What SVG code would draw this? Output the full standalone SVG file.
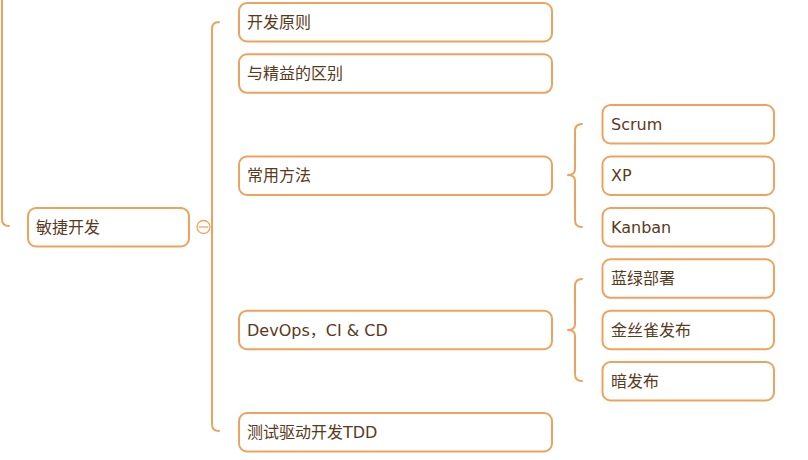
<svg xmlns="http://www.w3.org/2000/svg" width="808" height="460" viewBox="0 0 808 460">
<style>
.n{fill:#fff;stroke:#EBA45F;stroke-width:2}
.t{font-family:"DejaVu Sans","Noto Sans CJK SC",sans-serif;font-size:16px;fill:#5A3A1C;dominant-baseline:central}
.c{fill:none;stroke:#EBA45F;stroke-width:2;stroke-linecap:round;stroke-linejoin:round}
</style>
<rect width="808" height="460" fill="#fff"/>
<g id="connectors">
<path class="c" d="M2,0 V219 Q2,226 9,226"/>
<path class="c" d="M219,22 Q212,22 212,29 V424 Q212,431 219,431"/>
<path class="c" d="M582,124 Q575,124 575,131 V169 Q575,175 568,175 Q575,175 575,181 V220 Q575,227 582,227"/>
<path class="c" d="M582,279 Q575,279 575,286 V324 Q575,330 568,330 Q575,330 575,336 V374 Q575,381 582,381"/>
</g>
<g id="root">
<rect class="n" x="28" y="208" width="161" height="38.5" rx="8"/>
<text class="t" x="36" y="227">敏捷开发</text>
<circle cx="203.5" cy="227" r="6.5" fill="#fff" stroke="#EBA45F" stroke-width="1.3"/>
<line x1="199" y1="227" x2="208" y2="227" stroke="#EBA45F" stroke-width="1.3"/>
</g>
<g id="n1"><rect class="n" x="239" y="3" width="313" height="38.5" rx="8"/><text class="t" x="247" y="22">开发原则</text></g>
<g id="n2"><rect class="n" x="239" y="54.3" width="313" height="38.5" rx="8"/><text class="t" x="247" y="73.5">与精益的区别</text></g>
<g id="n3"><rect class="n" x="239" y="156.5" width="313" height="38.5" rx="8"/><text class="t" x="247" y="175.8">常用方法</text></g>
<g id="n4"><rect class="n" x="239" y="310.7" width="313" height="38.5" rx="8"/><text class="t" x="247" y="330">DevOps，CI &amp; CD</text></g>
<g id="n5"><rect class="n" x="239" y="413" width="313" height="38.5" rx="8"/><text class="t" x="247" y="432.3">测试驱动开发TDD</text></g>
<g id="n31"><rect class="n" x="602.5" y="105" width="171.5" height="38.5" rx="8"/><text class="t" x="611" y="124.3">Scrum</text></g>
<g id="n32"><rect class="n" x="602.5" y="156.5" width="171.5" height="38.5" rx="8"/><text class="t" x="611" y="175.8">XP</text></g>
<g id="n33"><rect class="n" x="602.5" y="208" width="171.5" height="38.5" rx="8"/><text class="t" x="611" y="227.3">Kanban</text></g>
<g id="n41"><rect class="n" x="602.5" y="259.3" width="171.5" height="38.5" rx="8"/><text class="t" x="611" y="278.5">蓝绿部署</text></g>
<g id="n42"><rect class="n" x="602.5" y="310.7" width="171.5" height="38.5" rx="8"/><text class="t" x="611" y="330">金丝雀发布</text></g>
<g id="n43"><rect class="n" x="602.5" y="362" width="171.5" height="38.5" rx="8"/><text class="t" x="611" y="381.3">暗发布</text></g>
</svg>
